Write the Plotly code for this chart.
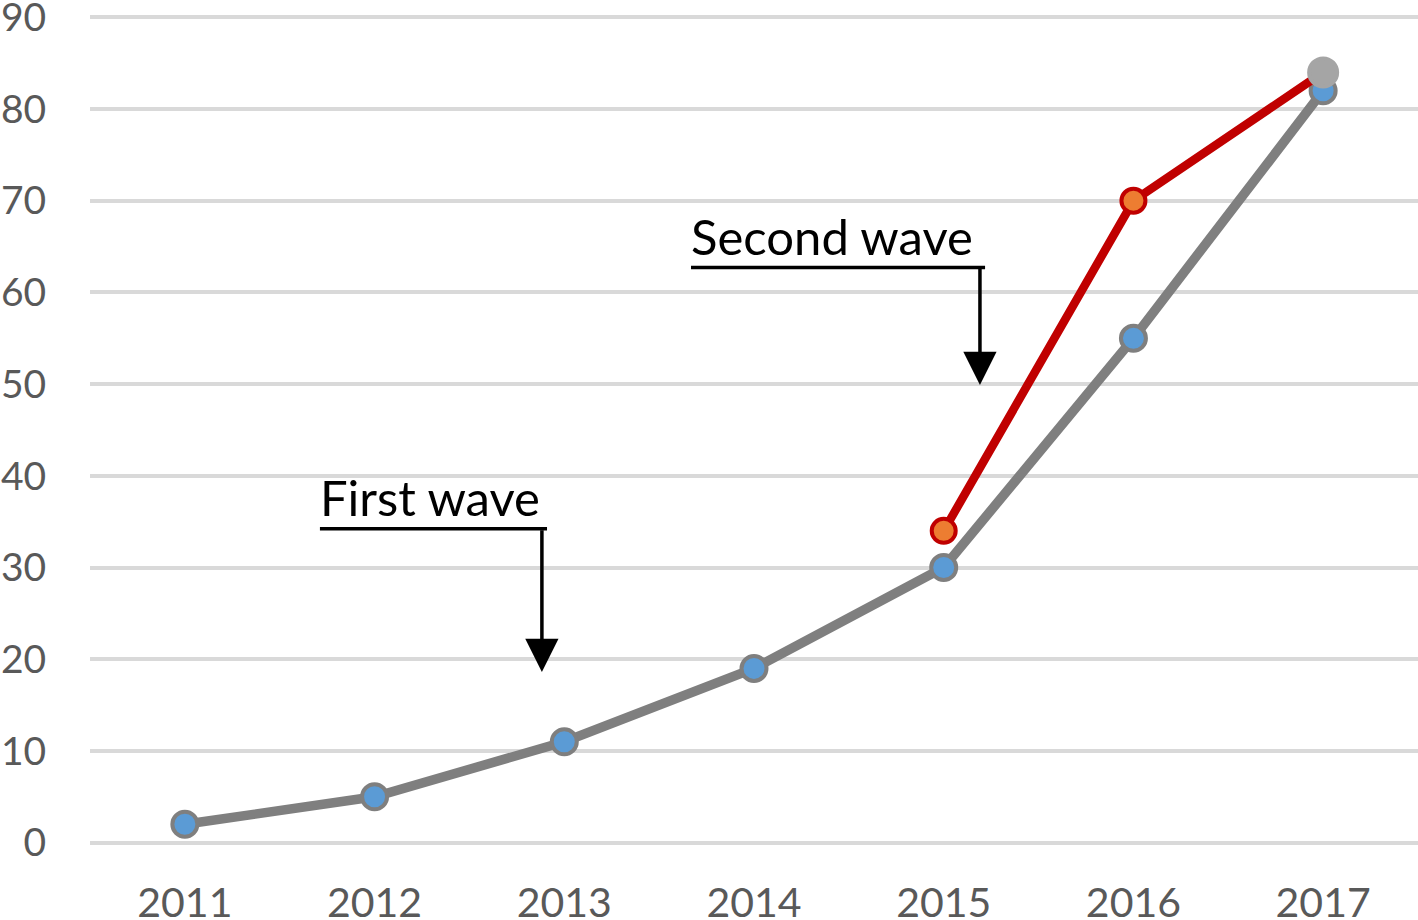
import plotly.graph_objects as go

years = [2011, 2012, 2013, 2014, 2015, 2016, 2017]
total_values = [2, 5, 11, 19, 30, 55, 82]
second_years = [2015, 2016, 2017]
second_values = [34, 70, 84]
y_ticks = [0, 10, 20, 30, 40, 50, 60, 70, 80, 90]

FONT = "Lato"
GREY_LINE = "#7F7F7F"
RED = "#C00000"

fig = go.Figure()
fig.add_trace(go.Scatter(
    x=years, y=total_values, mode="lines+markers",
    line=dict(color=GREY_LINE, width=9.5),
    marker=dict(size=25, color="#5B9BD5", opacity=1,
                line=dict(color=GREY_LINE, width=4)),
    showlegend=False, hoverinfo="x+y",
))
fig.add_trace(go.Scatter(
    x=second_years, y=second_values, mode="lines+markers",
    line=dict(color=RED, width=8.5),
    marker=dict(size=[24, 24, 28], color=["#ED7D31", "#ED7D31", "#A5A5A5"], opacity=1,
                line=dict(color=[RED, RED, "#A5A5A5"], width=4)),
    showlegend=False, hoverinfo="x+y",
))

# annotation geometry (data coordinates)
labels = [
    dict(text="First wave", x0=2011.712, x1=2012.909, yl=34.24, xa=2012.882, tip=18.6),
    dict(text="Second wave", x0=2013.668, x1=2015.218, yl=62.72, xa=2015.191, tip=49.9),
]
for lb in labels:
    fig.add_shape(type="line", xref="x", yref="y", x0=lb["x0"], x1=lb["x1"],
                  y0=lb["yl"], y1=lb["yl"], line=dict(color="black", width=3.5))
    fig.add_annotation(x=lb["x0"], y=lb["yl"], xref="x", yref="y", text=lb["text"],
                       showarrow=False, xanchor="left", yanchor="bottom",
                       xshift=-2, yshift=1,
                       font=dict(family=FONT, size=49, color="black"))
    fig.add_annotation(x=lb["xa"], y=lb["tip"], xref="x", yref="y",
                       ax=lb["xa"], ay=lb["yl"], axref="x", ayref="y",
                       text="", showarrow=True, arrowhead=2, arrowsize=1.9,
                       arrowwidth=3.5, arrowcolor="black", standoff=0)

fig.update_layout(
    width=1418, height=920,
    margin=dict(l=90, r=0, t=16, b=76),
    paper_bgcolor="white", plot_bgcolor="white",
    font=dict(family=FONT, color="#595959", size=39),
    xaxis=dict(range=[2010.5, 2017.5], tickvals=years, ticktext=[str(y) for y in years],
               showgrid=False, zeroline=False, showline=False, automargin=False,
               ticks="outside", ticklen=23, tickcolor="rgba(0,0,0,0)",
               ticklabeloverflow="allow",
               tickfont=dict(family=FONT, size=41, color="#595959")),
    yaxis=dict(range=[-0.15, 90.15], tickvals=y_ticks, showgrid=True, gridcolor="#D9D9D9",
               gridwidth=3.5, zeroline=False, showline=False, automargin=False,
               ticks="outside", ticklen=35, tickcolor="rgba(0,0,0,0)",
               ticklabeloverflow="allow",
               tickfont=dict(family=FONT, size=39, color="#595959")),
)

fig.write_html("out.html", config={"displayModeBar": False},
               post_script="document.body.style.margin='0';")
